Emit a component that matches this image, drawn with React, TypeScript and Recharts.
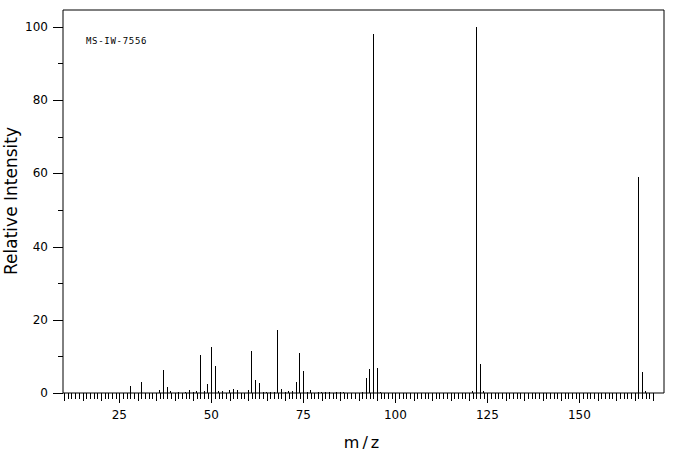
import React from "react";
import { BarChart, Bar, XAxis, YAxis, ReferenceArea } from "recharts";

const mzValues = [28, 31, 36, 37, 38, 39, 41, 43, 44, 45, 46, 47, 48, 49, 50, 51, 52, 53, 55, 56, 57, 60, 61, 62, 63, 64, 65, 66, 67, 68, 69, 70, 71, 72, 73, 74, 75, 76, 77, 79, 80, 81, 82, 84, 85, 86, 91, 92, 93, 94, 95, 96, 121, 122, 123, 124, 166, 167, 168];
const intensities = [1.9, 3.0, 0.8, 6.3, 1.6, 0.5, 0.3, 0.4, 0.8, 0.3, 0.5, 10.4, 0.5, 2.5, 12.6, 7.4, 0.5, 0.5, 0.8, 1.1, 0.8, 0.8, 11.5, 3.6, 2.8, 0.3, 0.3, 0.3, 0.3, 17.3, 1.1, 0.3, 0.5, 0.5, 3.0, 10.8, 6.0, 0.3, 0.8, 0.3, 0.3, 0.3, 0.3, 0.3, 0.3, 0.3, 0.3, 4.1, 6.6, 98.1, 6.8, 0.3, 0.5, 100, 8.0, 0.5, 59.0, 5.6, 0.5];

const xLabelTicks = [25, 50, 75, 100, 125, 150];
const yLabelTicks = [0, 20, 40, 60, 80, 100];
const yMinorTicks = [10, 30, 50, 70, 90];
const xTickStart = 10;
const xTickEnd = 170;

const X_DOMAIN: [number, number] = [9.7, 173];
const Y_DOMAIN: [number, number] = [0, 104.6];

const data = mzValues.map((mz, i) => ({ mz, intensity: intensities[i] }));

const xTicks: number[] = [];
for (let v = xTickStart; v <= xTickEnd; v++) xTicks.push(v);
const yTicks = [...yLabelTicks, ...yMinorTicks].sort((a, b) => a - b);

const FONT = "'DejaVu Sans', sans-serif";

const XTick = (props: any) => {
  const { x, y, payload } = props;
  const v = payload.value;
  const major = xLabelTicks.includes(v);
  const mid = v % 5 === 0;
  const len = major ? 10 : mid ? 8 : 6;
  const px = Math.round(x) + 0.5;
  return (
    <g>
      <line x1={px} x2={px} y1={y} y2={y + len} stroke="#000" strokeWidth={1} />
      {major && (
        <text x={x} y={y + 26} textAnchor="middle" fontFamily={FONT} fontSize={12} fill="#000">
          {v}
        </text>
      )}
    </g>
  );
};

const YTick = (props: any) => {
  const { x, y, payload } = props;
  const v = payload.value;
  const major = yLabelTicks.includes(v);
  const len = major ? 10 : 5;
  const py = Math.round(y) + 0.5;
  return (
    <g>
      <line x1={x - len} x2={x} y1={py} y2={py} stroke="#000" strokeWidth={1} />
      {major && (
        <text x={x - 15} y={y} textAnchor="end" dominantBaseline="central" fontFamily={FONT} fontSize={12} fill="#000">
          {v}
        </text>
      )}
    </g>
  );
};

const PeakShape = (props: any) => {
  const { x, y, width, height } = props;
  if (!height || height <= 0) return null;
  const cx = Math.round(x + width / 2);
  const top = Math.round(y);
  const bottom = Math.round(y + height);
  return <rect x={cx} y={top} width={1} height={bottom - top} fill="#000" />;
};

export default function App() {
  return (
    <div style={{ position: "absolute", left: 0, top: 0, width: 676, height: 455, background: "#fff" }}>
      <BarChart
        width={676}
        height={455}
        data={data}
        margin={{ top: 10, right: 12, bottom: 0, left: 0 }}
        barGap={0}
      >
        <XAxis
          dataKey="mz"
          type="number"
          domain={X_DOMAIN}
          ticks={xTicks}
          interval={0}
          tickSize={0}
          tickMargin={0}
          axisLine={false}
          tickLine={false}
          tick={<XTick />}
          height={62}
          allowDataOverflow
          label={{
            content: () => (
              <text x={363} y={448} textAnchor="middle" fontFamily={FONT} fontSize={16} letterSpacing={3} fill="#000">
                m/z
              </text>
            ),
          }}
        />
        <YAxis
          type="number"
          domain={Y_DOMAIN}
          ticks={yTicks}
          interval={0}
          tickSize={0}
          tickMargin={0}
          axisLine={false}
          tickLine={false}
          tick={<YTick />}
          width={63}
          allowDataOverflow
          label={{
            content: () => (
              <text
                x={17}
                y={201}
                transform="rotate(-90 17 201)"
                textAnchor="middle"
                fontFamily={FONT}
                fontSize={17}
                fill="#000"
              >
                Relative Intensity
              </text>
            ),
          }}
        />
        <ReferenceArea
          x1={X_DOMAIN[0]}
          x2={X_DOMAIN[1]}
          y1={Y_DOMAIN[0]}
          y2={Y_DOMAIN[1]}
          fill="none"
          stroke="#000"
          strokeWidth={1}
          ifOverflow="visible"
          label={{
            content: () => (
              <text x={86} y={44} fontFamily="'DejaVu Sans Mono', monospace" fontSize={9} letterSpacing={0.7} fill="#000">
                MS-IW-7556
              </text>
            ),
          }}
        />
        <Bar dataKey="intensity" barSize={1} isAnimationActive={false} shape={<PeakShape />} />
      </BarChart>
    </div>
  );
}
